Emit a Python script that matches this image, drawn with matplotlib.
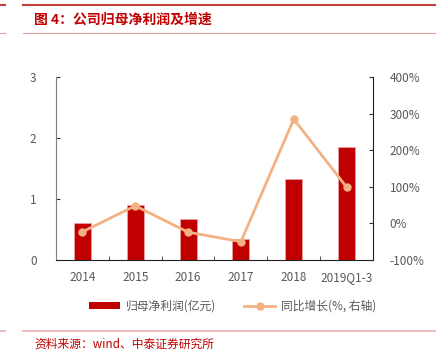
import numpy as np
import matplotlib
matplotlib.use("Agg")
import matplotlib.pyplot as plt
from matplotlib.lines import Line2D
from matplotlib.patches import Patch

plt.rcParams['font.family'] = ['Noto Sans CJK SC', 'DejaVu Sans']

years = ["2014", "2015", "2016", "2017", "2018", "2019Q1-3"]
profit = [0.60, 0.90, 0.67, 0.34, 1.32, 1.85]        # 亿元
growth = [-23, 48, -24, -50, 285, 99]                # %

RED = "#C00000"
ORANGE = "#F4B183"
GRAY = "#595959"

fig = plt.figure(figsize=(4.39, 3.5), dpi=100)
ax = fig.add_axes([56 / 439, 1 - 260 / 350, (373 - 56) / 439, (260 - 77) / 350])
x = np.arange(len(years))
ax.bar(x, profit, width=0.32, color=RED, edgecolor="#E8A0A0", linewidth=0.6, zorder=2)
ax.set_xlim(-0.5, len(years) - 0.5)
ax.set_ylim(0, 3)
ax.set_yticks([0, 1, 2, 3])
ax.set_xticks(x)
ax.set_xticklabels(years)
ax.set_xticks(np.arange(0.5, len(years) - 0.5, 1), minor=True)
ax.tick_params(axis="x", which="major", length=0, pad=8, labelsize=8.5, labelcolor=GRAY)
ax.tick_params(axis="x", which="minor", direction="in", length=3, color="#333333")
ax.tick_params(axis="y", direction="in", length=3, labelsize=8.5, labelcolor=GRAY,
               pad=14, color="#333333")
ax.spines["top"].set_visible(False)
ax.spines["right"].set_visible(False)
ax.spines["left"].set_color("#7F7F7F")
ax.spines["bottom"].set_color("#222222")

ax2 = ax.twinx()
ax2.plot(x, growth, color=ORANGE, linewidth=2, marker="o", markersize=5, zorder=3)
ax2.set_ylim(-100, 400)
ax2.set_yticks([-100, 0, 100, 200, 300, 400])
ax2.set_yticklabels([f"{v}%" for v in [-100, 0, 100, 200, 300, 400]])
ax2.tick_params(axis="y", direction="in", length=3, labelsize=8.5, labelcolor=GRAY,
                pad=12, color="#333333")
for s in ["top", "left", "bottom"]:
    ax2.spines[s].set_visible(False)
ax2.spines["right"].set_color("#222222")

handles = [Patch(facecolor=RED, edgecolor="none"),
           Line2D([0], [0], color=ORANGE, linewidth=2, marker="o", markersize=5)]
fig.legend(handles, ["归母净利润(亿元)", "同比增长(%, 右轴)"], loc="center",
           bbox_to_anchor=(0.53, 1 - 306 / 350), ncol=2, frameon=False,
           fontsize=8.5, labelcolor=GRAY, handlelength=2.6, handleheight=0.6,
           columnspacing=2.4, handletextpad=0.5)

# header / footer rules
fig.add_artist(Line2D([0, 5 / 439], [1 - 5 / 350] * 2, color="#C04040", lw=1.5))
fig.add_artist(Line2D([23 / 439, 435 / 439], [1 - 5 / 350] * 2, color="#C04040", lw=1.5))
fig.add_artist(Line2D([0, 5 / 439], [1 - 33 / 350] * 2, color="#E0A0A0", lw=0.8))
fig.add_artist(Line2D([23 / 439, 435 / 439], [1 - 33 / 350] * 2, color="#E0A0A0", lw=0.8))
fig.add_artist(Line2D([0, 5 / 439], [1 - 331 / 350] * 2, color="#E8B0B0", lw=1.2))
fig.add_artist(Line2D([23 / 439, 435 / 439], [1 - 331 / 350] * 2, color="#E8B0B0", lw=1.2))

fig.text(34 / 439, 1 - 20 / 350, "图 4：公司归母净利润及增速", color=RED,
         fontsize=10, fontweight="bold", va="center", ha="left")
fig.text(34 / 439, 1 - 344 / 350, "资料来源：wind、中泰证券研究所", color=RED,
         fontsize=8.5, va="center", ha="left")

fig.savefig("out.png", dpi=100)
